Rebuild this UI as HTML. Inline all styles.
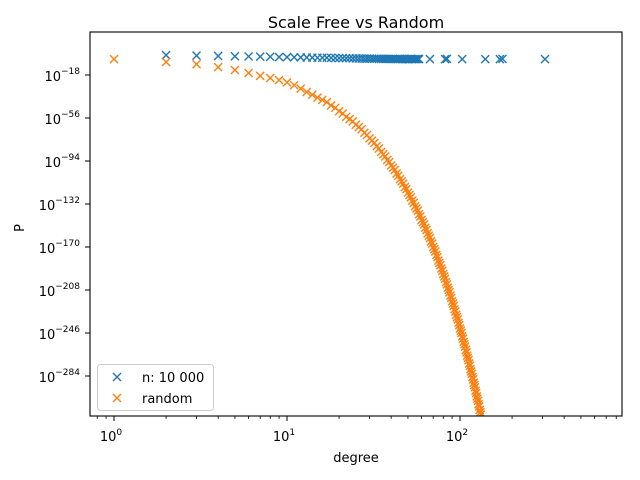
<!DOCTYPE html>
<html><head><meta charset="utf-8"><style>
body{margin:0;background:#fff}
svg{display:block;font-family:"DejaVu Sans","Liberation Sans",sans-serif}
</style></head><body>
<svg id="chart" width="640" height="480" viewBox="0 0 640 480">
<rect width="640" height="480" fill="#fff"/>
<text x="356" y="28" font-size="16" text-anchor="middle">Scale Free vs Random</text>
<g id="marks"></g>
<g id="axes"></g>
<text x="356" y="462" font-size="13" text-anchor="middle">degree</text>
<text x="24" y="228" font-size="13" text-anchor="middle" transform="rotate(-90 24 228)">P</text>
<g>
<rect x="97.5" y="364.5" width="116" height="46" rx="3" fill="#fff" fill-opacity="0.8" stroke="#ccc"/>
<g>
<path d="M113,373 l8,8 M121,373 l-8,8" stroke="#1f77b4" stroke-width="1.4"/>
<text x="142" y="382" font-size="13">n: 10 000</text>
</g>
<g>
<path d="M113,394 l8,8 M121,394 l-8,8" stroke="#ff7f0e" stroke-width="1.4"/>
<text x="142" y="403" font-size="13">random</text>
</g>
</g>
</svg>
<script>
const blueDegrees=[2,3,4,5,6,7,8,9,10,11,12,13,14,15,16,17,18,19,20,21,22,23,24,25,26,27,28,29,30,31,32,33,34,35,36,37,38,39,40,41,42,43,44,45,46,47,48,49,50,51,52,53,54,55,56,57,58,67,82,84,103,140,170,176,310];
const blueLogP=[-0.4,-0.9,-1.2,-1.4,-1.6,-1.8,-1.9,-2.1,-2.2,-2.3,-2.4,-2.5,-2.6,-2.7,-2.8,-2.8,-2.9,-3.0,-3.0,-3.1,-3.2,-3.2,-3.3,-3.3,-3.4,-3.4,-3.5,-3.5,-3.5,-3.6,-3.6,-3.6,-3.7,-3.7,-3.7,-3.8,-3.8,-3.8,-3.9,-3.9,-3.9,-4.0,-4.0,-3.7,-4.0,-4.0,-3.7,-4.0,-4.0,-4.0,-3.7,-4.0,-4.0,-4.0,-4.0,-3.7,-4.0,-4.0,-4.0,-3.7,-4.0,-4.0,-4.0,-3.7,-4.0];
const randomDegrees=[1,2,3,4,5,6,7,8,9,10,11,12,13,14,15,16,17,18,19,20,21,22,23,24,25,26,27,28,29,30,31,32,33,34,35,36,37,38,39,40,41,42,43,44,45,46,47,48,49,50,51,52,53,54,55,56,57,58,59,60,61,62,63,64,65,66,67,68,69,70,71,72,73,74,75,76,77,78,79,80,81,82,83,84,85,86,87,88,89,90,91,92,93,94,95,96,97,98,99,100,101,102,103,104,105,106,107,108,109,110,111,112,113,114,115,116,117,118,119,120,121,122,123,124,125,126,127,128,129,130,131,132];
const randomLogP=[-4,-6.5,-8.5,-11,-13.6,-16.2,-18.8,-20.7,-22.5,-24.5,-27,-30,-33,-35.5,-38,-40,-42,-45,-47,-50,-52,-55,-57,-59,-62,-64,-66,-69,-71,-74,-76,-78,-81,-83,-86,-88,-90,-93,-95,-98,-100,-102,-105,-107,-110,-112,-114,-117,-119,-122,-124,-126,-129,-131,-134,-136,-138,-141,-143,-146,-148,-150,-153,-155,-158,-160,-162,-165,-167,-170,-172,-174,-177,-179,-182,-184,-186,-189,-191,-194,-196,-198,-201,-203,-206,-208,-210,-213,-215,-218,-220,-222,-225,-227,-230,-232,-234,-237,-239,-242,-244,-246,-249,-251,-254,-256,-258,-261,-263,-266,-268,-270,-273,-275,-278,-280,-282,-285,-287,-290,-292,-294,-297,-299,-302,-304,-306,-309,-311,-314,-316,-318];
const yTickExps=[-18,-56,-94,-132,-170,-208,-246,-284];
const xTickExps=[0,1,2];

const L=90,R=622,T=32,B=416;
function xs(k){return 114+173*Math.log10(k);}
function ys(e){return 75-(e+18)*(43/38);}
const NS='http://www.w3.org/2000/svg';
const marks=document.getElementById('marks');
const axes=document.getElementById('axes');
function mk(tag,attrs,parent){const el=document.createElementNS(NS,tag);for(const a in attrs)el.setAttribute(a,attrs[a]);parent.appendChild(el);return el;}
const clip=mk('clipPath',{id:'clp'},marks);mk('rect',{x:L,y:T,width:R-L,height:B-T},clip);
marks.setAttribute('clip-path','url(#clp)');
function cross(x,y,c,name,parent){
  const p=mk('path',{d:`M${x-4},${y-4}L${x+4},${y+4}M${x+4},${y-4}L${x-4},${y+4}`,stroke:c,'stroke-width':1.4,fill:'none'},parent);
  
  
}
const gb=mk('g',{},marks);


blueDegrees.forEach((k,i)=>cross(xs(k),ys(blueLogP[i]),'#1f77b4','scale-free-point',gb));
const go=mk('g',{},marks);


randomDegrees.forEach((k,i)=>cross(xs(k),ys(randomLogP[i]),'#ff7f0e','random-point',go));

// spines
const sp=mk('rect',{x:L,y:T,width:R-L,height:B-T,fill:'none',stroke:'#000','stroke-width':1.1},axes);


// x ticks
xTickExps.forEach(e=>{
  const x=xs(Math.pow(10,e));
  mk('line',{x1:x,x2:x,y1:B,y2:B+5,stroke:'#000'},axes);
  const t=mk('text',{x:x-3,y:B+25,'font-size':13,'text-anchor':'middle'},axes);
  
  
  t.textContent='10';
  const s=mk('tspan',{'font-size':9,dy:-6},t);s.textContent=String(e);
});
for(let d=-1;d<=2;d++){for(let m=2;m<=9;m++){const x=xs(m*Math.pow(10,d));if(x<L||x>R)continue;mk('line',{x1:x,x2:x,y1:B,y2:B+3,stroke:'#000','stroke-width':0.8},axes);}}
// y ticks
yTickExps.forEach(e=>{
  const y=ys(e);
  mk('line',{x1:L-5,x2:L,y1:y,y2:y,stroke:'#000'},axes);
  const t=mk('text',{x:L-10,y:y+6,'font-size':13,'text-anchor':'end'},axes);
  
  
  t.textContent='10';
  const s=mk('tspan',{'font-size':9,dy:-7},t);s.textContent='\u2212'+Math.abs(e);
});
</script>
</body></html>
